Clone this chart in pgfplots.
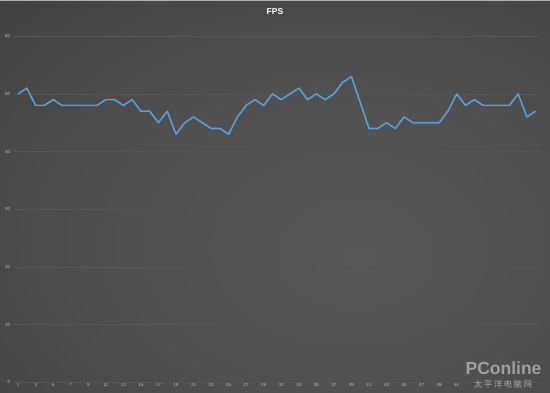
\documentclass[border=0pt]{standalone}
\usepackage{pgfplots}
\pgfplotsset{compat=1.18}
\usepackage{fontspec}
\setmainfont{Liberation Sans}
\newfontfamily\cjk{Noto Sans CJK SC}
\definecolor{bginner}{HTML}{585858}
\definecolor{bgouter}{HTML}{282828}
\definecolor{linec}{HTML}{5B9BD5}
\definecolor{gridc}{HTML}{555555}
\definecolor{tickc}{HTML}{BBBBBB}
\pgfdeclareradialshading{bgshade}{\pgfpoint{8bp}{-8bp}}{color(0bp)=(bginner); color(20bp)=(bginner!85!bgouter); color(55bp)=(bgouter!70!bginner); color(80bp)=(bgouter)}
\begin{document}
\begin{tikzpicture}[x=1pt,y=1pt]
\useasboundingbox (0,0) rectangle (550,392);
\shade[shading=bgshade] (0,0) rectangle (550,392);
\draw[color=gray!60, line width=1pt] (0,391.5) -- (550,391.5);
\begin{axis}[
  at={(15.6,17)}, anchor=south west,
  scale only axis, width=526.4pt, height=346pt,
  xmin=0.5, xmax=60.5, ymin=0, ymax=60,
  axis line style={draw=none},
  axis x line*=bottom,
  xtick={1,3,...,51}, ytick={0,10,...,60},
  tick style={draw=none},
  ymajorgrids, grid style={gridc, line width=0.6pt},
  ticklabel style={font=\fontsize{4.5}{5}\selectfont, text=tickc},
  /pgf/number format/assume math mode=true,
  xticklabel style={yshift=2pt},
  yticklabel style={xshift=0pt},
  clip=false,
]
\draw[gridc, line width=0.6pt] (axis cs:0.5,0) -- (axis cs:60.5,0);
\addplot[linec, line width=1.6pt, line join=round] coordinates {
(1,50)(2,51)(3,48)(4,48)(5,49)(6,48)(7,48)(8,48)(9,48)(10,48)
(11,49)(12,49)(13,48)(14,49)(15,47)(16,47)(17,45)(18,47)(19,43)(20,45)
(21,46)(22,45)(23,44)(24,44)(25,43)(26,46)(27,48)(28,49)(29,48)(30,50)
(31,49)(32,50)(33,51)(34,49)(35,50)(36,49)(37,50)(38,52)(39,53)(40,48.5)
(41,44)(42,44)(43,45)(44,44)(45,46)(46,45)(47,45)(48,45)(49,45)(50,47)
(51,50)(52,48)(53,49)(54,48)(55,48)(56,48)(57,48)(58,50)(59,46)(60,47)
};
\end{axis}
\node[text=white, font=\bfseries\fontsize{8.5}{10}\selectfont] at (275,380) {FPS};
\node[text=gray!75, font=\bfseries\fontsize{17.5}{18}\selectfont, anchor=south east] at (545,14) {PConline};
\node[text=gray!70, font=\cjk\fontsize{8.5}{9}\selectfont, anchor=center] at (503,7.5) {太\,平\,洋\,电\,脑\,网};
\end{tikzpicture}
\end{document}
